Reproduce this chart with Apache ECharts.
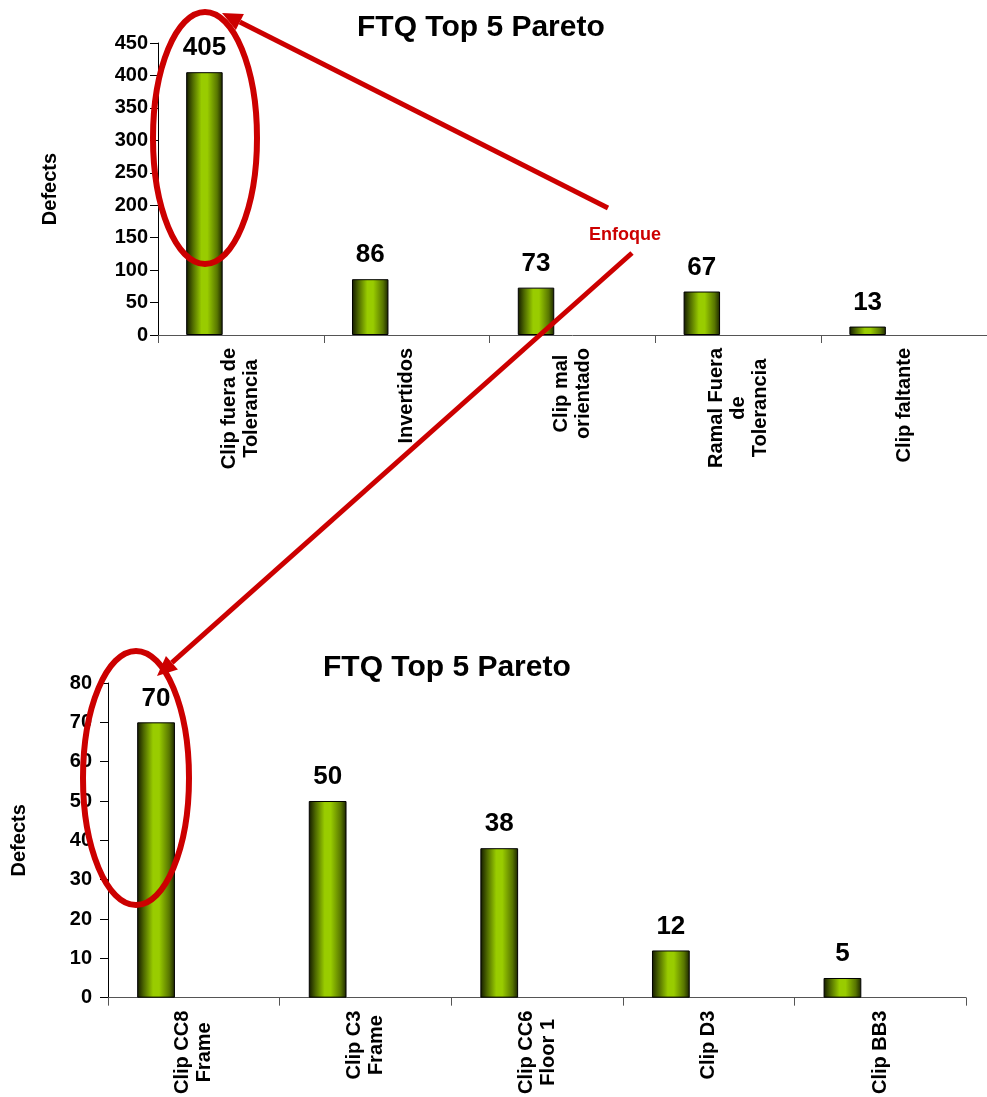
<!DOCTYPE html>
<html>
<head>
<meta charset="utf-8">
<title>FTQ Top 5 Pareto</title>
<script src="https://cdn.jsdelivr.net/npm/echarts@6/dist/echarts.min.js"></script>
<style>
    html, body { margin: 0; padding: 0; background: #fff; }
    #main { width: 987px; height: 1097px; }
</style>
</head>
<body>
<div id="main"></div>
<script>
    // pareto general
    var topCategories = ['Clip fuera de\nTolerancia', 'Invertidos', 'Clip mal\norientado', 'Ramal Fuera\nde\nTolerancia', 'Clip faltante'];
    var topValues = [405, 86, 73, 67, 13];
    var topMin = 0, topMax = 450, topStep = 50;

    // detalle de "Clip fuera de Tolerancia"
    var bottomCategories = ['Clip CC8\nFrame', 'Clip C3\nFrame', 'Clip CC6\nFloor 1', 'Clip D3', 'Clip BB3'];
    var bottomValues = [70, 50, 38, 12, 5];
    var bottomMin = 0, bottomMax = 80, bottomStep = 10;

    // series vacias (el pareto de excel tiene 3 series por categoria)
    var emptyValues = ['-', '-', '-', '-', '-'];

    var FONT = '"Liberation Sans", Arial, sans-serif';
    var RED = '#cc0000';

    var myChart = echarts.init(document.getElementById('main'));

    var barColor = new echarts.graphic.LinearGradient(0, 0, 1, 0, [
        {offset: 0, color: '#121800'},
        {offset: 0.18, color: '#4f6a00'},
        {offset: 0.42, color: '#99cc00'},
        {offset: 0.58, color: '#99cc00'},
        {offset: 0.85, color: '#587600'},
        {offset: 1, color: '#1a2300'}
    ]);

    function centerLines(v) {
        return v.split('\n').map(function (s) { return '{c|' + s + '}'; }).join('\n');
    }

    function xAxisFor(idx, cats) {
        return {
            gridIndex: idx,
            type: 'category',
            data: cats,
            axisLine: {lineStyle: {color: '#555', width: 1}},
            axisTick: {show: true, length: 8, lineStyle: {color: '#555'}},
            axisLabel: {
                rotate: 90,
                interval: 0,
                margin: 13,
                color: '#000',
                fontFamily: FONT,
                fontSize: 20,
                fontWeight: 'bold',
                lineHeight: 22,
                formatter: centerLines,
                rich: {
                    c: {align: 'center', fontFamily: FONT, fontSize: 20, fontWeight: 'bold', lineHeight: 22, color: '#000'}
                }
            }
        };
    }

    function yAxisFor(idx, min, max, step, margin, gap) {
        return {
            gridIndex: idx,
            type: 'value',
            min: min,
            max: max,
            interval: step,
            splitLine: {show: false},
            axisLine: {show: true, lineStyle: {color: '#000', width: 1}},
            axisTick: {show: true, length: 8, lineStyle: {color: '#000'}},
            axisLabel: {margin: margin, color: '#000', fontFamily: FONT, fontSize: 20, fontWeight: 'bold'},
            name: 'Defects',
            nameLocation: 'middle',
            nameRotate: 90,
            nameGap: gap,
            nameTextStyle: {color: '#000', fontFamily: FONT, fontSize: 20, fontWeight: 'bold'}
        };
    }

    function barsFor(idx, values) {
        var common = {type: 'bar', xAxisIndex: idx, yAxisIndex: idx, barGap: '0%', barCategoryGap: '34%'};
        return [
            Object.assign({}, common, {
                name: 'Defects',
                data: values,
                itemStyle: {color: barColor, borderColor: '#000', borderWidth: 1},
                label: {
                    show: true,
                    position: 'top',
                    distance: 11,
                    color: '#000',
                    fontFamily: FONT,
                    fontSize: 26,
                    fontWeight: 'bold'
                }
            }),
            Object.assign({}, common, {name: 'hueco1', data: emptyValues, silent: true}),
            Object.assign({}, common, {name: 'hueco2', data: emptyValues, silent: true})
        ];
    }

    // flecha roja: linea + punta
    function arrow(x1, y1, x2, y2) {
        var dx = x2 - x1, dy = y2 - y1;
        var len = Math.sqrt(dx * dx + dy * dy);
        var ux = dx / len, uy = dy / len;
        var hl = 20, hw = 9;
        var bx = x2 - ux * hl, by = y2 - uy * hl;
        return [{
            type: 'line',
            shape: {x1: x1, y1: y1, x2: bx, y2: by},
            style: {stroke: RED, lineWidth: 5},
            z: 100
        }, {
            type: 'polygon',
            shape: {points: [[x2, y2], [bx - uy * hw, by + ux * hw], [bx + uy * hw, by - ux * hw]]},
            style: {fill: RED},
            z: 100
        }];
    }

    var annotations = [
        {type: 'ellipse', shape: {cx: 205, cy: 138, rx: 52, ry: 126}, style: {fill: null, stroke: RED, lineWidth: 6}, z: 100},
        {type: 'ellipse', shape: {cx: 136, cy: 778, rx: 53, ry: 127}, style: {fill: null, stroke: RED, lineWidth: 6}, z: 100},
        {type: 'text', x: 625, y: 235, style: {text: 'Enfoque', fill: RED, font: 'bold 18px ' + FONT, align: 'center', verticalAlign: 'middle'}, z: 100}
    ].concat(arrow(608, 208, 222, 13), arrow(632, 253, 157, 676));

    option = {
        backgroundColor: '#fff',
        animation: false,
        title: [{
            text: 'FTQ Top 5 Pareto',
            left: 352,
            top: 8,
            textStyle: {color: '#000', fontFamily: FONT, fontSize: 30, fontWeight: 'bold'}
        }, {
            text: 'FTQ Top 5 Pareto',
            left: 318,
            top: 648,
            textStyle: {color: '#000', fontFamily: FONT, fontSize: 30, fontWeight: 'bold'}
        }],
        grid: [
            {left: 158, right: -12, top: 43, bottom: 762},
            {left: 108, right: 21, top: 683, bottom: 99}
        ],
        xAxis: [xAxisFor(0, topCategories), xAxisFor(1, bottomCategories)],
        yAxis: [
            yAxisFor(0, topMin, topMax, topStep, 10, 98),
            yAxisFor(1, bottomMin, bottomMax, bottomStep, 16, 79)
        ],
        series: barsFor(0, topValues).concat(barsFor(1, bottomValues)),
        graphic: annotations
    };
    myChart.setOption(option);
</script>
</body>
</html>
